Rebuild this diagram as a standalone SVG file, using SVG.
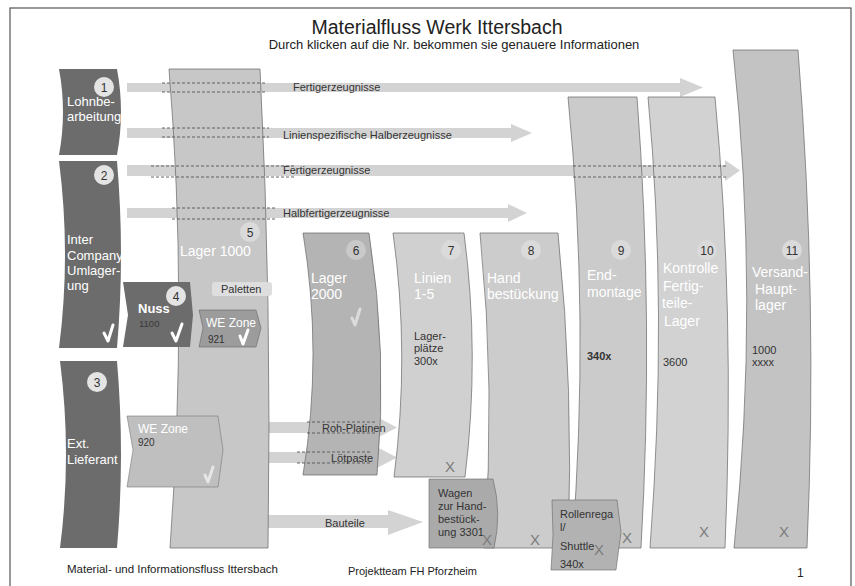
<svg xmlns="http://www.w3.org/2000/svg" width="855" height="586" viewBox="0 0 855 586">
<style>
text{font-family:"Liberation Sans",Arial,sans-serif}
.frame{fill:#fff;stroke:#555;stroke-width:1.2}
.bar{fill:#d3d3d3}
.dash{fill:none;stroke:#555;stroke-width:0.9;stroke-dasharray:3,2}
.col{stroke:#666;stroke-width:0.7}
.dark{fill:#6c6c6c}
.wl{fill:#fff;font-size:13px}
.big{fill:#fff;font-size:14px}
.sm{fill:#333;font-size:11px}
.nm{fill:#333;font-size:10px}
.alab{fill:#333;font-size:11px}
.num{fill:#333;font-size:12px;text-anchor:middle}
.c1{fill:#e4e4e4}
.c2{fill:#dadada}
.chk{fill:none;stroke:#fff;stroke-width:3;stroke-linecap:round;stroke-linejoin:round}
.x{fill:#7c7c7c;font-size:15px;text-anchor:middle}
.foot{fill:#222;font-size:11.5px}
</style>
<rect class="frame" x="10" y="8" width="841" height="590"/>
<text x="437" y="34" font-size="19.5" fill="#222" text-anchor="middle">Materialfluss Werk Ittersbach</text>
<text x="454" y="49" font-size="13" fill="#222" text-anchor="middle">Durch klicken auf die Nr. bekommen sie genauere Informationen</text>

<g id="connectors">
<path class="bar" d="M127,83 H680 V78 L703,87.5 L680,97 V92 H127 Z"/>
<path class="bar" d="M127,128 H511 V124 L532,133 L511,142 V138 H127 Z"/>
<path class="bar" d="M127,165 H725 V160 L740,170.5 L725,181 V176 H127 Z"/>
<path class="bar" d="M127,208 H508 V204 L527,213 L508,222 V218 H127 Z"/>
<path class="bar" d="M266,422 H375 V416 L397,427.5 L375,439 V433 H266 Z"/>
<path class="bar" d="M266,452 H375 V446 L397,457.5 L375,469 V463 H266 Z"/>
<path class="bar" d="M266,515 H388 V510 L423,522 L388,535 V528 H266 Z"/>
</g>

<g id="n1">
<path class="dark" d="M59,69 L117,69 Q125,112 117,155 L59,155 Q67,112 59,69 Z"/>
<circle class="c1" cx="104" cy="87" r="10"/><text class="num" x="104" y="91.5">1</text>
<text class="wl" x="67" y="106">Lohnbe-</text>
<text class="wl" x="67" y="121">arbeitung</text>
</g>
<g id="n2">
<path class="dark" d="M59,161 L117,161 Q125,255 117,348 L59,348 Q71,255 59,161 Z"/>
<circle class="c1" cx="104" cy="175" r="10"/><text class="num" x="104" y="179.5">2</text>
<text class="wl" x="67" y="244">Inter</text>
<text class="wl" x="67" y="260">Company</text>
<text class="wl" x="67" y="275">Umlager-</text>
<text class="wl" x="67" y="290">ung</text>
<path class="chk" d="M104,333 L108,341 L113,325"/>
</g>
<g id="n3">
<path class="dark" d="M60,361 L117,361 Q125,455 117,548 L60,548 Q72,455 60,361 Z"/>
<circle class="c1" cx="97" cy="382" r="10"/><text class="num" x="97" y="386.5">3</text>
<text class="wl" x="67" y="448">Ext.</text>
<text class="wl" x="67" y="464">Lieferant</text>
</g>
<g id="n5">
<path class="col" fill="#c7c7c7" d="M169,69 L260,69 Q272,300 268,548 L170,548 Q188,300 169,69 Z"/>
<circle class="c2" cx="250" cy="232" r="10"/><text class="num" x="250" y="236.5">5</text>
<text class="big" x="180" y="256">Lager 1000</text>
</g>
<g id="n4">
<path class="dark" d="M123,282 L190,282 L193,315 L190,347 L123,347 L128,315 Z"/>
<circle class="c1" cx="176" cy="296" r="10"/><text class="num" x="176" y="300.5">4</text>
<text class="wl" x="138" y="313" font-weight="bold">Nuss</text>
<text x="139" y="327" font-size="9.5" fill="#3a3a3a">1100</text>
<path class="chk" d="M172,333 L176,341 L182,324"/>
</g>
<g id="n921">
<path fill="#9c9c9c" stroke="#666" stroke-width="0.6" d="M199,310 L256,310 L261,328 L256,347 L199,347 L203,328 Z"/>
<text fill="#fff" font-size="12" x="206" y="327">WE Zone</text>
<text class="nm" x="208" y="343">921</text>
<path class="chk" d="M240,336 L243,344 L248,330"/>
</g>
<g id="n920">
<path fill="#bfbfbf" stroke="#777" stroke-width="0.6" d="M127,416 L218,416 L223,450 L218,487 L127,487 L133,450 Z"/>
<text fill="#fff" font-size="12" x="138" y="433">WE Zone</text>
<text class="nm" x="138" y="446">920</text>
<path class="chk" style="stroke:#e6e6e6" d="M205,475 L208,482 L213,467"/>
</g>
<g id="n6">
<path class="col" fill="#b4b4b4" d="M303,233 L369,233 Q388,354 377,475 L303,475 Q323,354 303,233 Z"/>
<circle cx="356" cy="250" r="10" fill="#c9c9c9"/><text class="num" x="356" y="254.5">6</text>
<text class="big" x="311" y="283">Lager</text>
<text class="big" x="311" y="299">2000</text>
<path class="chk" style="stroke:#dcdcdc" d="M352,318 L355,325 L360,309"/>
</g>
<g id="n7">
<path class="col" fill="#d0d0d0" d="M393,233 L464,233 Q480,355 465,477 L394,477 Q410,355 393,233 Z"/>
<circle class="c2" cx="451" cy="250" r="10"/><text class="num" x="451" y="254.5">7</text>
<text class="big" x="414" y="283">Linien</text>
<text class="big" x="414" y="299">1-5</text>
<text class="sm" x="414" y="340">Lager-</text>
<text class="sm" x="414" y="352">plätze</text>
<text class="sm" x="414" y="365">300x</text>
<text class="x" x="450" y="472">X</text>
</g>
<g id="n8">
<path class="col" fill="#cccccc" d="M480,233 L558,233 Q574,390 568,548 L484,548 Q496,390 480,233 Z"/>
<circle class="c2" cx="531" cy="250" r="10"/><text class="num" x="531" y="254.5">8</text>
<text class="big" x="487" y="283">Hand</text>
<text class="big" x="487" y="299">bestückung</text>
<text class="x" x="535" y="545">X</text>
</g>
<g id="n8a">
<path fill="#aaaaaa" stroke="#666" stroke-width="0.6" d="M429,479 L493,479 Q502,513 494,548 L429,548 Z"/>
<text class="sm" x="438" y="497">Wagen</text>
<text class="sm" x="438" y="510">zur Hand-</text>
<text class="sm" x="438" y="523">bestück-</text>
<text class="sm" x="438" y="536">ung 3301</text>
<text class="x" x="487" y="545">X</text>
</g>
<g id="n9">
<path class="col" fill="#cbcbcb" d="M568,97 L637,97 Q654,320 641,548 L572,548 Q590,320 568,97 Z"/>
<circle class="c2" cx="621" cy="250" r="10"/><text class="num" x="621" y="254.5">9</text>
<text class="big" x="587" y="280">End-</text>
<text class="big" x="587" y="297">montage</text>
<text class="sm" x="587" y="360" font-weight="bold">340x</text>
<text class="x" x="627" y="543">X</text>
</g>
<g id="n10">
<path class="col" fill="#d2d2d2" d="M648,97 L715,97 Q735,310 725,548 L650,548 Q668,310 648,97 Z"/>
<circle class="c2" cx="707" cy="250" r="10"/><text class="num" x="707" y="254.5">10</text>
<text class="big" x="663" y="273">Kontrolle</text>
<text class="big" x="663" y="291">Fertig-</text>
<text class="big" x="662" y="308">teile-</text>
<text class="big" x="664" y="326">Lager</text>
<text class="sm" x="663" y="366">3600</text>
<text class="x" x="704" y="537">X</text>
</g>
<g id="n11">
<path class="col" fill="#c3c3c3" d="M733,50 L798,50 Q818,300 807,548 L734,548 Q760,300 733,50 Z"/>
<circle class="c2" cx="792" cy="250" r="10"/><text class="num" x="792" y="254.5">11</text>
<text class="big" x="752" y="277">Versand-</text>
<text class="big" x="755" y="294">Haupt-</text>
<text class="big" x="755" y="310">lager</text>
<text class="sm" x="752" y="354">1000</text>
<text class="sm" x="752" y="366">xxxx</text>
<text class="x" x="784" y="537">X</text>
</g>
<g id="n9a">
<path fill="#b2b2b2" stroke="#666" stroke-width="0.6" d="M552,500 L617,500 L621,532 L616,570 L551,570 L553,535 Z"/>
<text class="sm" x="560" y="518">Rollenrega</text>
<text class="sm" x="560" y="531">l/</text>
<text class="sm" x="560" y="550">Shuttle</text>
<text class="sm" x="560" y="568">340x</text>
<text class="x" x="599" y="555">X</text>
</g>

<g id="connector-labels">
<path class="dash" d="M162,83 H267 M162,92 H267"/>
<path class="dash" d="M162,128 H269 M162,137 H269"/>
<path class="dash" d="M151,166 H294 M151,177 H294"/>
<path class="dash" d="M573,166 H727 M573,177 H727"/>
<path class="dash" d="M172,208 H277 M172,219 H277"/>
<path class="dash" d="M307,422 H376 M307,433 H376"/>
<path class="dash" d="M297,452 H372 M297,463 H372"/>
<text class="alab" x="293" y="91">Fertigerzeugnisse</text>
<text class="alab" x="283" y="139">Linienspezifische Halberzeugnisse</text>
<text class="alab" x="283" y="174">Fertigerzeugnisse</text>
<text class="alab" x="283" y="217">Halbfertigerzeugnisse</text>
<text class="alab" x="322" y="432">Roh-Platinen</text>
<text class="alab" x="331" y="462">Lötpaste</text>
<text class="alab" x="325" y="527">Bauteile</text>
<rect x="212" y="282" width="60" height="14" rx="3" fill="#dedede"/>
<text class="alab" x="221" y="293">Paletten</text>
</g>

<text class="foot" x="67" y="573">Material- und Informationsfluss Ittersbach</text>
<text x="348" y="575" font-size="11" fill="#222">Projektteam FH Pforzheim</text>
<text x="797" y="577" font-size="12" fill="#222">1</text>
</svg>
